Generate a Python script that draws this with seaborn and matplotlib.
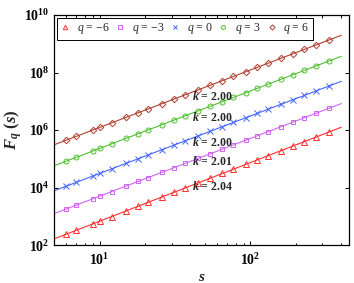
import numpy as np
import matplotlib
matplotlib.use("Agg")
import matplotlib.pyplot as plt
from matplotlib.lines import Line2D
from matplotlib.ticker import LogLocator, NullFormatter, FuncFormatter
import seaborn as sns

# данные
s = [6, 7, 9, 10, 12, 15, 18, 21, 26, 31, 37, 45, 54, 65, 77, 93, 111, 131,
     160, 190, 228, 273, 330]

f_m6 = [238, 327, 545, 676, 980, 1546, 2240, 3070, 4760, 6790, 9750, 14530,
        21050, 30850, 43380, 63860, 91690, 128600, 193300, 275000, 398400,
        574500, 849600]
f_m3 = [1795, 2443, 4055, 5012, 7228, 11320, 16330, 22230, 34200, 48640,
        69500, 103000, 148300, 215800, 302700, 442600, 631000, 881000,
        1318000, 1866000, 2692000, 3855000, 5662000]
f_0 = [11120, 15140, 25030, 30900, 44500, 69530, 100100, 136300, 208900,
       297000, 423000, 625700, 901000, 1306000, 1832000, 2673000, 3807000,
       5303000, 7910000, 11150000, 16060000, 23030000, 33650000]
f_3 = [82480, 112300, 185600, 229100, 329900, 515500, 742300, 1010000,
       1549000, 2202000, 3136000, 4639000, 6681000, 9680000, 13580000,
       19810000, 28230000, 39320000, 58650000, 82710000, 119100000,
       170700000, 249500000]
f_6 = [442800, 602700, 996300, 1230000, 1771000, 2768000, 3985000, 5424000,
       8315000, 11820000, 16840000, 24910000, 35870000, 51970000, 72930000,
       106400000, 151500000, 211100000, 314900000, 444000000, 639400000,
       916700000, 1339000000]

q_labels = [r"$q$ = −6", r"$q$ = −3", r"$q$ = 0", r"$q$ = 3", r"$q$ = 6"]
k_labels = ["2.04", "2.01", "2.00", "2.00", "2.00"]
series = [f_m6, f_m3, f_0, f_3, f_6]

colors = ["#ff3030", "#cc66ee", "#4466ff", "#50c030", "#b0402e"]
markers = ["^", "s", "x", "o", "D"]
msizes = [4.0, 3.3, 4.0, 3.6, 3.3]
k_pos_y = [1.05e4, 7.8e4, 3.8e5, 2.8e6, 1.5e7]

sns.set_style("ticks")
plt.rcParams["font.family"] = ["Liberation Serif", "DejaVu Serif"]
plt.rcParams["mathtext.fontset"] = "custom"
plt.rcParams["mathtext.rm"] = "Liberation Serif"
plt.rcParams["mathtext.it"] = "Liberation Serif:italic"
plt.rcParams["mathtext.bf"] = "Liberation Serif:bold"
plt.rcParams["mathtext.bfit"] = "Liberation Serif:italic:bold"

fig = plt.figure(figsize=(3.54, 2.83), dpi=100)
ax = fig.add_axes([0.153, 0.134, 0.833, 0.813])

x_line = np.array([5.0, 400.0])
handles = []
for f, c, m, ms, lab, k, ky in zip(series, colors, markers, msizes,
                                   q_labels, k_labels, k_pos_y):
    # линия подгонки в лог-лог
    p = np.polyfit(np.log10(s), np.log10(f), 1)
    y_line = 10 ** np.polyval(p, np.log10(x_line))
    sns.lineplot(x=x_line, y=y_line, color=c, lw=0.8, ax=ax)
    ax.plot(s, f, ls="none", marker=m, ms=ms, mfc="none", mec=c, mew=0.7)
    handles.append(Line2D([], [], ls="none", marker=m, ms=ms * 0.8,
                          mfc="none", mec=c, mew=0.7, label=lab))
    ax.text(41, ky, r"$\mathbfit{k}$ = " + k, fontsize=8.5,
            fontweight="bold", va="center", ha="left")

ax.set_xscale("log")
ax.set_yscale("log")
ax.set_xlim(5, 450)
ax.set_ylim(1e2, 1e10)
ax.set_yticks([1e2, 1e4, 1e6, 1e8, 1e10])
ax.yaxis.set_minor_locator(matplotlib.ticker.NullLocator())
ax.xaxis.set_minor_locator(LogLocator(base=10, subs=np.arange(2, 10), numticks=20))
ax.xaxis.set_minor_formatter(NullFormatter())

bold_pow = FuncFormatter(lambda v, pos: r"$\mathbf{10^{%d}}$" % round(np.log10(v)))
ax.xaxis.set_major_formatter(bold_pow)
ax.yaxis.set_major_formatter(bold_pow)

ax.tick_params(which="both", direction="in", top=True, right=True,
               labelsize=10, width=0.7, colors="black")
ax.tick_params(which="major", length=3)
ax.tick_params(which="minor", length=1.8)
ax.tick_params(axis="x", pad=5)
for sp in ax.spines.values():
    sp.set_linewidth(0.9)
    sp.set_color("black")

ax.set_xlabel(r"$\mathbfit{s}$", fontsize=11, labelpad=2)
ax.set_ylabel(r"$\mathbfit{F}_{\mathbfit{q}}\ \mathbf{(}\mathbfit{s}\mathbf{)}$",
              fontsize=12, labelpad=0)

leg = ax.legend(handles=handles, loc="upper left", ncol=5, fontsize=8.5,
                handlelength=0.8, handletextpad=0.6, columnspacing=0.5,
                borderpad=0.3, borderaxespad=0.25, fancybox=False,
                framealpha=1)
leg.get_frame().set_edgecolor("black")
leg.get_frame().set_linewidth(0.7)

fig.savefig("out.png", dpi=100)
